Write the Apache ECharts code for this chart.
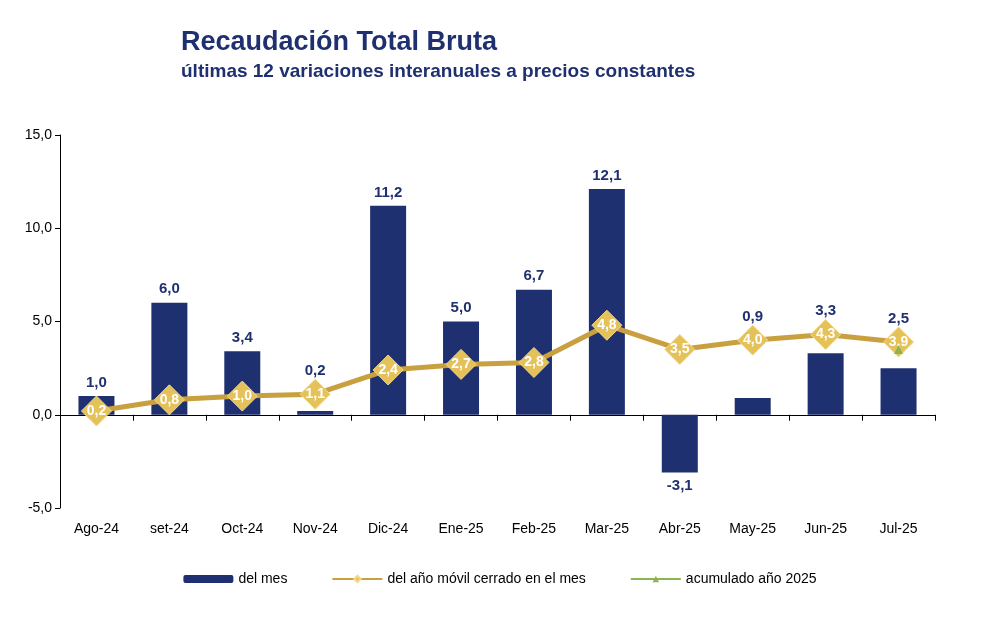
<!DOCTYPE html>
<html>
<head>
<meta charset="utf-8">
<script src="https://cdn.jsdelivr.net/npm/echarts@6/dist/echarts.min.js"></script>
<style>
  body { margin: 0; background: #fff; }
  #chart { width: 1000px; height: 641px; }
</style>
</head>
<body>
<div id="chart"></div>
<script>
var meses = ['Ago-24', 'set-24', 'Oct-24', 'Nov-24', 'Dic-24', 'Ene-25', 'Feb-25', 'Mar-25', 'Abr-25', 'May-25', 'Jun-25', 'Jul-25'];
var delMes = [1.0, 6.0, 3.4, 0.2, 11.2, 5.0, 6.7, 12.1, -3.1, 0.9, 3.3, 2.5];
var anioMovil = [0.2, 0.8, 1.0, 1.1, 2.4, 2.7, 2.8, 4.8, 3.5, 4.0, 4.3, 3.9];
var acumulado = [null, null, null, null, null, null, null, null, null, null, null, 3.5];

var fmt = function (p) { return p.value == null ? '' : p.value.toFixed(1).replace('.', ','); };

// bar labels that would sit under a diamond are lifted above it
var barData = delMes.map(function (v, i) {
  var d = { value: v };
  if (v >= 0 && anioMovil[i] > v) {
    d.label = { offset: [0, -((anioMovil[i] - v) * 18.6 + 10)] };
  }
  return d;
});

var chart = echarts.init(document.getElementById('chart'));
var option = {
  textStyle: { fontFamily: 'Liberation Sans, Arial, sans-serif' },
  title: {
    text: 'Recaudación Total Bruta',
    subtext: 'últimas 12 variaciones interanuales a precios constantes',
    left: 176, top: 24, itemGap: 6,
    textStyle: { color: '#1f3070', fontSize: 27, fontWeight: 'bold' },
    subtextStyle: { color: '#1f3070', fontSize: 19, fontWeight: 'bold' }
  },
  legend: {
    bottom: 50, left: 'center', itemGap: 44,
    itemWidth: 50, itemHeight: 8,
    textStyle: { fontSize: 14, color: '#000' },
    data: ['del mes', 'del año móvil cerrado en el mes', 'acumulado año 2025']
  },
  grid: { left: 60, right: 65, top: 135, bottom: 133 },
  xAxis: [{
    type: 'category', data: meses, position: 'bottom',
    axisLine: { onZero: false, show: false },
    axisTick: { show: false },
    axisLabel: { fontSize: 14, color: '#000', margin: 14 }
  }, {
    type: 'category', data: meses, position: 'bottom',
    axisLine: { onZero: true, lineStyle: { color: '#000' } },
    axisTick: { show: true, length: 6, lineStyle: { color: '#000' } },
    axisLabel: { show: false }
  }],
  yAxis: {
    type: 'value', min: -5, max: 15, interval: 5,
    axisLine: { show: true, lineStyle: { color: '#000' } },
    axisTick: { show: true, length: 5, lineStyle: { color: '#000' } },
    splitLine: { show: false },
    axisLabel: { fontSize: 14, color: '#000', formatter: function (v) { return v.toFixed(1).replace('.', ','); } }
  },
  series: [{
    name: 'del mes', type: 'bar', data: barData, barWidth: 36,
    itemStyle: { color: '#1f3070' },
    label: { show: true, position: 'outside', distance: 6, formatter: fmt,
      color: '#1f3070', fontSize: 15, fontWeight: 'bold' },
    z: 2
  }, {
    name: 'del año móvil cerrado en el mes', type: 'line', data: anioMovil,
    symbol: 'diamond', symbolSize: 30,
    lineStyle: { color: '#c9a040', width: 5 },
    itemStyle: { color: '#e5c15a', borderColor: '#f2d98a', borderWidth: 1 },
    label: { show: true, position: 'inside', formatter: fmt, color: '#fff', fontSize: 14, fontWeight: 'bold' },
    z: 3
  }, {
    name: 'acumulado año 2025', type: 'line', data: acumulado,
    symbol: 'triangle', symbolSize: 9,
    lineStyle: { color: '#8db54f', width: 3 },
    itemStyle: { color: '#8db54f' },
    z: 4
  }]
};
chart.setOption(option);
</script>
</body>
</html>
